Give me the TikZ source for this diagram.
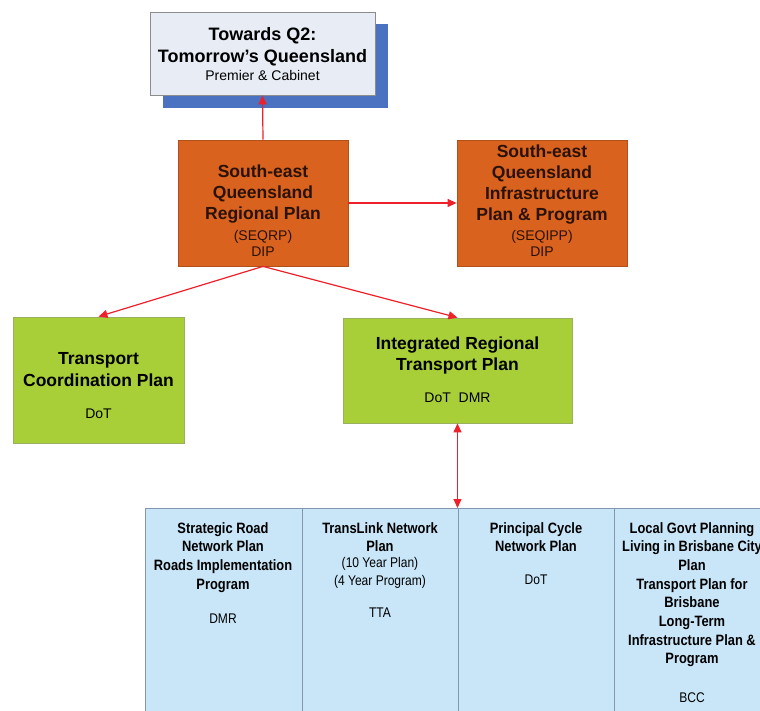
\documentclass[tikz,border=0pt]{standalone}
\usepackage{fontspec}
\setmainfont{Liberation Sans}
\newfontfamily\narrowfont[FakeStretch=0.86]{Liberation Sans}
\usetikzlibrary{arrows.meta}
\definecolor{qfill}{HTML}{E7ECF5}
\definecolor{qborder}{HTML}{8C8C8C}
\definecolor{qshadow}{HTML}{4A72C0}
\definecolor{orfill}{HTML}{D8621E}
\definecolor{orborder}{HTML}{B0501A}
\definecolor{grfill}{HTML}{A8CF38}
\definecolor{grborder}{HTML}{98B060}
\definecolor{blfill}{HTML}{C8E6F8}
\definecolor{blborder}{HTML}{8497B0}
\definecolor{arrred}{HTML}{EE2029}
\definecolor{ortext}{HTML}{2A1208}
\tikzset{
  box/.style={rectangle, inner sep=0pt, line width=0.8pt},
  qbox/.style={box, draw=qborder, fill=qfill},
  obox/.style={box, draw=orborder, fill=orfill},
  gbox/.style={box, draw=grborder, fill=grfill},
  cell/.style={box, draw=blborder, fill=blfill, line width=0.7pt},
  tip/.tip={Triangle[width=8pt,length=9pt]},
  arr/.style={draw=arrred, line width=1.2pt, -tip},
  darr/.style={draw=arrred, line width=1.2pt, tip-tip},
  ttl/.style={anchor=north, inner sep=0pt, align=center, font=\fontsize{17.5}{21}\selectfont\bfseries},
  sub/.style={anchor=north, inner sep=0pt, align=center, font=\fontsize{14}{16}\selectfont},
  cttl/.style={anchor=north, inner sep=0pt, align=center, font=\narrowfont\fontsize{15}{18.7}\selectfont\bfseries},
  csub/.style={anchor=north, inner sep=0pt, align=center, font=\narrowfont\fontsize{14}{18}\selectfont}
}
\begin{document}
\begin{tikzpicture}[x=1pt,y=-1pt]
\useasboundingbox (0,0) rectangle (760,711);
\fill[white] (0,0) rectangle (760,711);
% top box with shadow
\fill[qshadow] (163,24) rectangle (388,108);
\node[qbox, minimum width=225pt, minimum height=83pt] (q2) at (262.5,53.5) {};
\node[ttl, font=\fontsize{18}{22}\selectfont\bfseries] (q2t) at (262.5,27) {Towards Q2:\\Tomorrow's Queensland};
\node[sub] (q2s) at (262.5,70) {Premier \& Cabinet};
% orange boxes
\node[obox, minimum width=170pt, minimum height=126pt] (seqrp) at (263,203) {};
\node[ttl, text=ortext] (seqrpt) at (263,165) {South-east\\Queensland\\Regional Plan};
\node[sub, text=ortext] (seqrps) at (263,230) {(SEQRP)\\DIP};
\node[obox, minimum width=170pt, minimum height=126pt] (seqipp) at (542,203) {};
\node[ttl, text=ortext] (seqippt) at (542,145) {South-east\\Queensland\\Infrastructure\\Plan \& Program};
\node[sub, text=ortext] (seqipps) at (542,230) {(SEQIPP)\\DIP};
% green boxes
\node[gbox, minimum width=171pt, minimum height=126pt] (tcp) at (98.5,380) {};
\node[ttl, font=\fontsize{17.5}{22}\selectfont\bfseries] (tcpt) at (98.5,352) {Transport\\Coordination Plan};
\node[sub] (tcps) at (98.5,409) {DoT};
\node[gbox, minimum width=229pt, minimum height=105pt] (irtp) at (457.5,370.5) {};
\node[ttl] (irtpt) at (457.5,337) {Integrated Regional\\Transport Plan};
\node[sub] (irtps) at (457.5,393) {DoT\ \ DMR};
% bottom row
\node[cell, minimum width=157pt, minimum height=215pt, anchor=north west] (c1) at (145,508) {};
\node[cell, minimum width=156pt, minimum height=215pt, anchor=north west] (c2) at (302,508) {};
\node[cell, minimum width=156pt, minimum height=215pt, anchor=north west] (c3) at (458,508) {};
\node[cell, minimum width=160pt, minimum height=215pt, anchor=north west] (c4) at (614,508) {};
\node[cttl] (c1t) at (223,522) {Strategic Road\\Network Plan\\Roads Implementation\\Program};
\node[csub] (c1s) at (223,614) {DMR};
\node[cttl] (c2t) at (380,522) {TransLink Network\\Plan};
\node[csub] (c2m) at (380,557) {(10 Year Plan)\\(4 Year Program)};
\node[csub] (c2s) at (380,608) {TTA};
\node[cttl] (c3t) at (536,522) {Principal Cycle\\Network Plan};
\node[csub] (c3s) at (536,575) {DoT};
\node[cttl] (c4t) at (692,522) {Local Govt Planning\\Living in Brisbane City\\Plan\\Transport Plan for\\Brisbane\\Long-Term\\Infrastructure Plan \&\\Program};
\node[csub] (c4s) at (692,693) {BCC};
% connectors
\draw[arr] (seqrp.north) -- (q2.south);
\draw[arr] (seqrp.east) -- (seqipp.west);
\draw[arr] (seqrp.south) -- (tcp.north);
\draw[arr] (seqrp.south) -- (irtp.north);
\draw[darr] (irtp.south) -- (irtp.south |- c3.north);
\end{tikzpicture}
\end{document}
